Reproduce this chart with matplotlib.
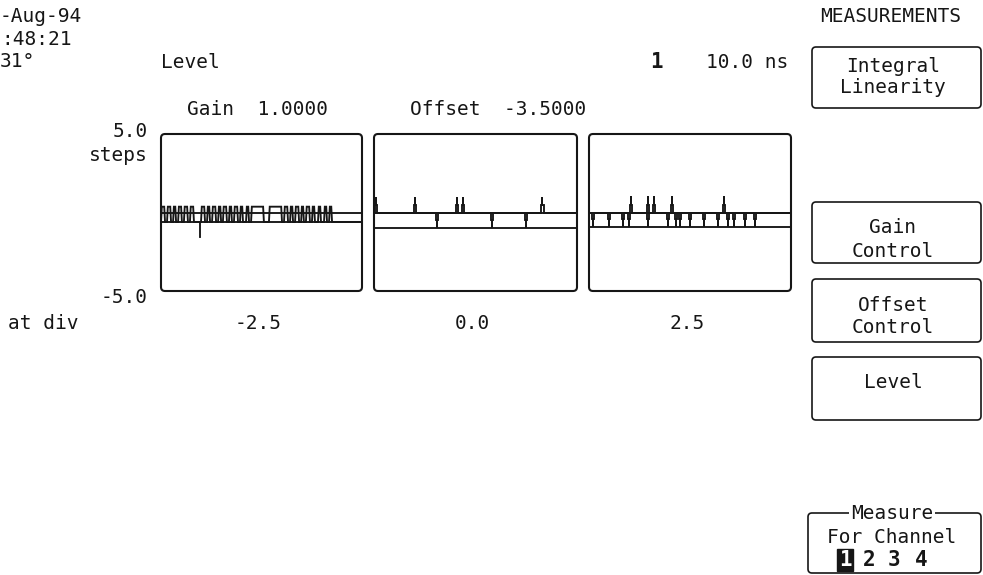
import matplotlib.pyplot as plt
from matplotlib.patches import FancyBboxPatch

plt.rcParams["font.family"] = "DejaVu Sans Mono"
INK = "#161616"

# --- Screen values ---
y_top, y_bottom = 5.0, -5.0
y_unit = "steps"
window_labels = ["-2.5", "0.0", "2.5"]
gain_value = "1.0000"
offset_value = "-3.5000"
timebase = "10.0 ns"

# panel 1: pulse train between low and high level (fractions of window width)
p1_levels = [0.0, -0.6]
p1_low, p1_high = -0.6, 0.37
p1_pulses = [
    (0.000, 0.020), (0.030, 0.050), (0.060, 0.075), (0.085, 0.104),
    (0.114, 0.134), (0.144, 0.164), (0.199, 0.219), (0.229, 0.244),
    (0.254, 0.274), (0.284, 0.299), (0.308, 0.328), (0.338, 0.353),
    (0.363, 0.383), (0.393, 0.408), (0.423, 0.438), (0.448, 0.512),
    (0.537, 0.602), (0.612, 0.632), (0.642, 0.657), (0.667, 0.687),
    (0.697, 0.711), (0.721, 0.741), (0.751, 0.766), (0.781, 0.796),
    (0.811, 0.826), (0.836, 0.851),
]
p1_dip_x, p1_dip_y = 0.194, -1.55

# panel 2: isolated missing / extra codes
p2_levels = [0.0, -1.0]
p2_up_x = [0.01, 0.20, 0.41, 0.44, 0.83]
p2_down_x = [0.31, 0.58, 0.75]
p2_up_peak, p2_down_peak = 1.0, -1.0

# panel 3
p3_levels = [0.0, -0.95]
p3_up_x = [0.21, 0.29, 0.32, 0.41, 0.67]
p3_down_x = [0.02, 0.10, 0.17, 0.20, 0.29, 0.39, 0.43, 0.45,
             0.50, 0.57, 0.64, 0.69, 0.72, 0.77, 0.82]
p3_up_peak, p3_down_peak = 1.07, -0.95


def pulse_trace(pulses, low, high, ramp=0.004):
    xs, ys = [0.0], [low]
    for s, e in pulses:
        xs += [s, s + ramp, e - ramp, e]
        ys += [low, high, high, low]
    xs.append(1.0)
    ys.append(low)
    return xs, ys


def spike_trace(up_x, down_x, up_peak, down_peak, base=0.0, w=0.005):
    # narrow bar up to ~45 % of the step, thin needle to the peak
    events = sorted([(x, up_peak) for x in up_x] + [(x, down_peak) for x in down_x])
    xs, ys = [0.0], [base]
    for x, pk in events:
        mid = base + 0.45 * (pk - base)
        xs += [x - w, x - w, x, x, x, x + w, x + w]
        ys += [base, mid, mid, pk, mid, mid, base]
    xs.append(1.0)
    ys.append(base)
    return xs, ys


W, H = 983, 575
fig = plt.figure(figsize=(W / 100, H / 100), dpi=100)
fig.patch.set_facecolor("white")

# --- Three measurement windows ---
panel_px = [(161, 362), (374, 577), (589, 791)]
top_px, bot_px = 134, 291
axes = []
for x0, x1 in panel_px:
    ax = fig.add_axes([x0 / W, 1 - bot_px / H, (x1 - x0) / W, (bot_px - top_px) / H])
    ax.set_xlim(0, 1)
    ax.set_ylim(y_bottom, y_top)
    ax.axis("off")
    axes.append(ax)

TRACE_LW = 1.35
for lvl in p1_levels:
    axes[0].axhline(lvl, color=INK, lw=TRACE_LW)
xs, ys = pulse_trace(p1_pulses, p1_low, p1_high)
axes[0].plot(xs, ys, color=INK, lw=TRACE_LW, solid_joinstyle="miter")
axes[0].plot([p1_dip_x, p1_dip_x], [p1_low, p1_dip_y], color=INK, lw=TRACE_LW)

for lvl in p2_levels:
    axes[1].axhline(lvl, color=INK, lw=TRACE_LW)
xs, ys = spike_trace(p2_up_x, p2_down_x, p2_up_peak, p2_down_peak)
axes[1].plot(xs, ys, color=INK, lw=TRACE_LW, solid_joinstyle="miter")

for lvl in p3_levels:
    axes[2].axhline(lvl, color=INK, lw=TRACE_LW)
xs, ys = spike_trace(p3_up_x, p3_down_x, p3_up_peak, p3_down_peak)
axes[2].plot(xs, ys, color=INK, lw=TRACE_LW, solid_joinstyle="miter")

# --- Overlay in screen pixels for frames, buttons and labels ---
ov = fig.add_axes([0, 0, 1, 1])
ov.set_xlim(0, W)
ov.set_ylim(H, 0)
ov.axis("off")
ov.patch.set_visible(False)


def rbox(x0, y0, x1, y1, lw=1.2, r=4):
    ov.add_patch(FancyBboxPatch((x0, y0), x1 - x0, y1 - y0,
                                boxstyle=f"round,pad=0,rounding_size={r}",
                                fill=False, ec=INK, lw=lw))


for x0, x1 in panel_px:
    rbox(x0, top_px, x1, bot_px, lw=1.5)

fs = 14


def txt(x, y, s, ha="left", **kw):
    kw.setdefault("color", INK)
    kw.setdefault("fontsize", fs)
    ov.text(x, y, s, ha=ha, va="baseline", **kw)


# header block
txt(0, 22, "-Aug-94")
txt(1, 45, ":48:21")
txt(0, 67, "31°")
txt(161, 68, "Level")
txt(656, 68, "1", ha="center", fontweight="bold", fontsize=15)
txt(788, 68, timebase, ha="right")
txt(187, 115, f"Gain  {gain_value}")
txt(410, 115, f"Offset  {offset_value}")

# vertical scale and window positions
txt(148, 137, f"{y_top:.1f}", ha="right")
txt(148, 161, y_unit, ha="right")
txt(148, 303, f"{y_bottom:.1f}", ha="right")
txt(8, 329, "at div")
for (x0, x1), lab in zip(panel_px, window_labels):
    txt((x0 + x1) / 2 - 3, 329, lab, ha="center")

# menu column
txt(891, 22, "MEASUREMENTS", ha="center")
bx0, bx1 = 812, 981
rbox(bx0, 47, bx1, 108)
txt(893, 72, "Integral", ha="center")
txt(893, 93, "Linearity", ha="center")
rbox(bx0, 202, bx1, 263)
txt(893, 233, "Gain", ha="center")
txt(893, 257, "Control", ha="center")
rbox(bx0, 279, bx1, 342)
txt(893, 311, "Offset", ha="center")
txt(893, 333, "Control", ha="center")
rbox(bx0, 357, bx1, 420)
txt(893, 388, "Level", ha="center")

rbox(808, 513, bx1, 573)
txt(892, 519, "Measure", ha="center",
    bbox=dict(facecolor="white", edgecolor="none", pad=1.5))
txt(892, 543, "For Channel", ha="center")
channels = ["1", "2", "3", "4"]
for i, (cx, ch) in enumerate(zip([845, 869, 894, 921], channels)):
    if i == 0:
        txt(cx, 566, ch, ha="center", fontweight="bold", fontsize=15, color="white",
            bbox=dict(facecolor=INK, edgecolor=INK, pad=1.0))
    else:
        txt(cx, 566, ch, ha="center", fontweight="bold", fontsize=15)

fig.savefig("out.png", dpi=100)
